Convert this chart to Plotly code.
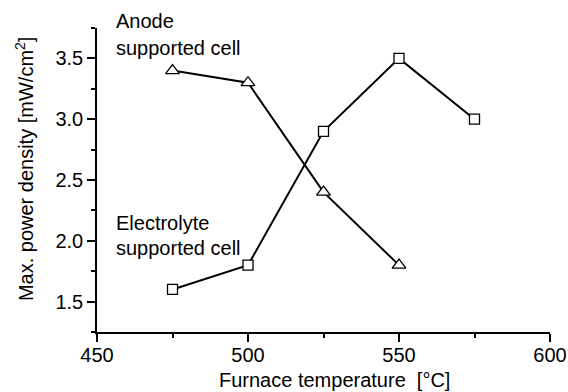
import plotly.graph_objects as go

# Data
temps_anode = [475, 500, 525, 550]
power_anode = [3.4, 3.3, 2.4, 1.8]
temps_electrolyte = [475, 500, 525, 550, 575]
power_electrolyte = [1.6, 1.8, 2.9, 3.5, 3.0]

x_ticks = [450, 500, 550, 600]
y_ticks = [1.5, 2.0, 2.5, 3.0, 3.5]

FONT = "Liberation Sans, Arial, sans-serif"
FS = 20

fig = go.Figure()
fig.add_trace(go.Scatter(
    x=temps_anode, y=power_anode, mode="lines+markers",
    line=dict(color="black", width=2),
    marker=dict(symbol="triangle-up", size=12, color="white",
                line=dict(color="black", width=1.3)),
    showlegend=False, cliponaxis=False,
))
fig.add_trace(go.Scatter(
    x=temps_electrolyte, y=power_electrolyte, mode="lines+markers",
    line=dict(color="black", width=2),
    marker=dict(symbol="square", size=10, color="white",
                line=dict(color="black", width=1.3)),
    showlegend=False, cliponaxis=False,
))

axis_common = dict(
    showline=True, linecolor="black", linewidth=1.5,
    ticks="outside", ticklen=8, tickwidth=1.5, tickcolor="black",
    showgrid=False, zeroline=False, mirror=False,
    tickfont=dict(family=FONT, size=FS, color="black"),
    automargin=False,
)

fig.update_xaxes(
    range=[450, 600], tickvals=x_ticks, ticktext=[str(v) for v in x_ticks],
    minor=dict(dtick=25, tick0=450, ticks="outside", ticklen=4, tickwidth=1.5, tickcolor="black"),
    ticklabelstandoff=-4,
    **axis_common,
)
fig.update_yaxes(
    range=[1.25, 3.75], tickvals=y_ticks, ticktext=[f"{v:.1f}" for v in y_ticks],
    minor=dict(dtick=0.25, tick0=1.25, ticks="outside", ticklen=4, tickwidth=1.5, tickcolor="black"),
    **axis_common,
)

txt_font = dict(family=FONT, size=FS, color="black")

# axis titles
fig.add_annotation(x=0.525, y=-0.159, xref="paper", yref="paper",
                   text="Furnace temperature\u00a0\u00a0[°C]", showarrow=False,
                   xanchor="center", yanchor="middle", font=txt_font)
fig.add_annotation(x=-0.161, y=0.536, xref="paper", yref="paper",
                   text="Max. power density [mW/cm<sup>2</sup>]", showarrow=False,
                   textangle=-90, xanchor="center", yanchor="middle", font=txt_font)

labels = [
    ("Anode", 1.023),
    ("supported cell", 0.934),
    ("Electrolyte", 0.358),
    ("supported cell", 0.2756),
]
for text, yv in labels:
    fig.add_annotation(x=0.0375, y=yv, xref="paper", yref="paper", text=text,
                       showarrow=False, xanchor="left", yanchor="middle",
                       font=txt_font)

fig.update_layout(
    width=568, height=392,
    margin=dict(l=97, r=18, t=28, b=60),
    paper_bgcolor="white", plot_bgcolor="white",
    font=dict(family=FONT, size=FS, color="black"),
)

fig.write_html("out.html", config={"displayModeBar": False},
               post_script="document.body.style.margin='0';document.body.style.padding='0';")
